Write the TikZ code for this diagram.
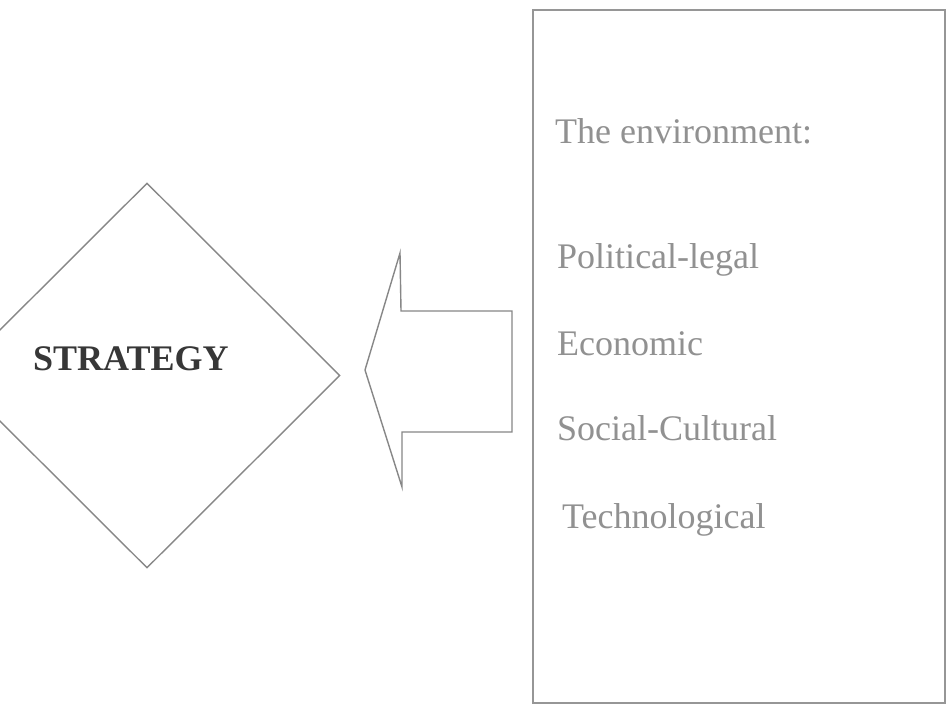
\documentclass[tikz,border=0pt]{standalone}
\usepackage{fontspec}
\setmainfont{Liberation Serif}
\usetikzlibrary{shapes.geometric}
\definecolor{linegray}{RGB}{135,135,135}
\definecolor{boxgray}{RGB}{150,150,150}
\definecolor{textgray}{RGB}{145,145,145}
\definecolor{darktext}{RGB}{55,55,55}
\tikzset{
  outline/.style={draw=linegray, line width=1.4pt, line join=miter},
  envbox/.style={draw=boxgray, line width=2pt, rectangle, inner sep=0pt},
  envitem/.style={anchor=base west, inner sep=0pt, text=textgray,
    font=\fontsize{36}{43}\selectfont},
  titletext/.style={anchor=base west, inner sep=0pt, text=darktext,
    font=\fontsize{36}{43}\selectfont\bfseries},
}
\begin{document}
\begin{tikzpicture}[x=1pt, y=-1pt]
  \useasboundingbox (0,0) rectangle (952,707);
  \clip (0,0) rectangle (952,707);
  \fill[white] (0,0) rectangle (952,707);

  % strategy diamond, partly beyond the left edge
  \node[outline, diamond, aspect=1, inner sep=0pt,
        minimum width=386pt, minimum height=385pt] (strategy) at (147,375.5) {};
  \node[titletext] (strategylabel) at (33,370) {STRATEGY};

  % block arrow pointing from the environment towards the strategy
  \draw[outline] (512,311) -- (401,311) -- (400,253) -- (365,370)
        -- (402,487) -- (402,432) -- (512,432) -- cycle;

  % environment box and its factors
  \node[envbox, minimum width=412pt, minimum height=693pt] (env) at (739,356.5) {};
  \node[envitem] (envtitle) at (555,143) {The environment:};
  \node[envitem] (political) at (557,268) {Political-legal};
  \node[envitem] (economic) at (557,355) {Economic};
  \node[envitem] (social) at (557,440) {Social-Cultural};
  \node[envitem] (techno) at (562,528) {Technological};
\end{tikzpicture}
\end{document}
